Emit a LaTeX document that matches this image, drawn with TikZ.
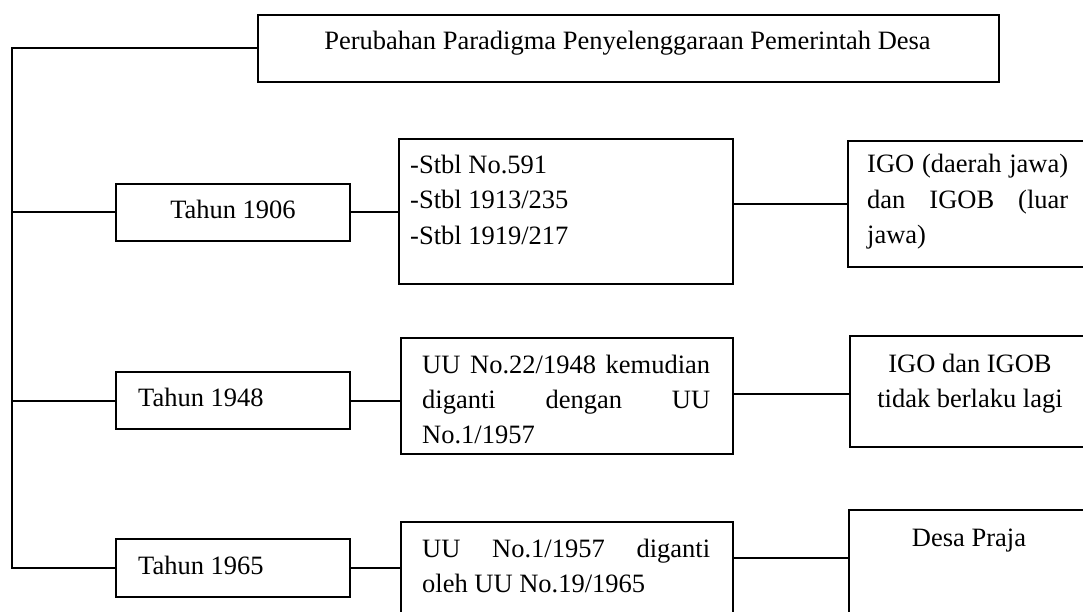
\documentclass[tikz,border=0pt]{standalone}
\usepackage{fontspec}
\setmainfont{Liberation Serif}
\begin{document}
\begin{tikzpicture}[x=1pt,y=-1pt,
  box/.style={draw, line width=2pt, rectangle, inner sep=0pt, anchor=north west},
  txt/.style={inner sep=0pt, font=\fontsize{26.5}{35.3}\selectfont},
  conn/.style={line width=2pt}]
\useasboundingbox (0,0) rectangle (1083,612);
\clip (0,0) rectangle (1083,612);
% boxes
\node[box, minimum width=741pt, minimum height=67pt] (title) at (257,14) {};
\node[box, minimum width=234pt, minimum height=57pt] (t1906) at (115,183) {};
\node[box, minimum width=334pt, minimum height=145pt] (stbl) at (398,138) {};
\node[box, minimum width=250pt, minimum height=126pt] (igo1) at (847,140) {};
\node[box, minimum width=234pt, minimum height=57pt] (t1948) at (115,371) {};
\node[box, minimum width=332pt, minimum height=116pt] (uu1) at (400,337) {};
\node[box, minimum width=250pt, minimum height=111pt] (igo2) at (849,335) {};
\node[box, minimum width=234pt, minimum height=58pt] (t1965) at (115,538) {};
\node[box, minimum width=332pt, minimum height=120pt] (uu2) at (400,521) {};
\node[box, minimum width=250pt, minimum height=120pt] (desa) at (848,509) {};
% texts
\node[txt, anchor=base] (titletxt) at (627.5,50) {Perubahan Paradigma Penyelenggaraan Pemerintah Desa};
\node[txt, anchor=base] (t1906txt) at (233,219) {Tahun 1906};
\node[txt, anchor=base west] (t1948txt) at (138,406) {Tahun 1948};
\node[txt, anchor=base west] (t1965txt) at (138,574) {Tahun 1965};
\node[txt, anchor=base west] (stbltxt) at (410,173.5) {\parbox[t]{300pt}{-Stbl No.591\\-Stbl 1913/235\\-Stbl 1919/217}};
\node[txt, anchor=base west] (igo1txt) at (867,173) {\parbox[t]{201pt}{\makebox[201pt][s]{IGO (daerah jawa)}\\\makebox[201pt][s]{dan IGOB (luar}\\jawa)}};
\node[txt, anchor=base west] (uu1txt) at (422,373) {\parbox[t]{288pt}{\makebox[288pt][s]{UU No.22/1948 kemudian}\\\makebox[288pt][s]{diganti dengan UU}\\No.1/1957}};
\node[txt, anchor=base west] (uu2txt) at (422,557) {\parbox[t]{288pt}{\makebox[288pt][s]{UU No.1/1957 diganti}\\oleh UU No.19/1965}};
\node[txt, anchor=base] (igo2txt) at (970,372) {\parbox[t]{250pt}{\centering IGO dan IGOB\\tidak berlaku lagi}};
\node[txt, anchor=base] (desatxt) at (969,546) {Desa Praja};
% connectors
\coordinate (spine) at (11.5,0);
\draw[conn] (title.west) -- (title.west -| spine) -- (t1965.west -| spine) -- (t1965.west);
\draw[conn] (t1906.west -| spine) -- (t1906.west);
\draw[conn] (t1948.west -| spine) -- (t1948.west);
\draw[conn] (t1906.east) -- (t1906.east -| stbl.west);
\draw[conn] (igo1.west -| stbl.east) -- (igo1.west);
\draw[conn] (t1948.east) -- (t1948.east -| uu1.west);
\draw[conn] ([yshift=2pt]uu1.east) -- ([yshift=2pt]uu1.east -| igo2.west);
\draw[conn] (t1965.east) -- (t1965.east -| uu2.west);
\draw[conn] ([yshift=-37pt]uu2.north east) -- ([yshift=-37pt]uu2.north east -| desa.west);
\end{tikzpicture}
\end{document}
